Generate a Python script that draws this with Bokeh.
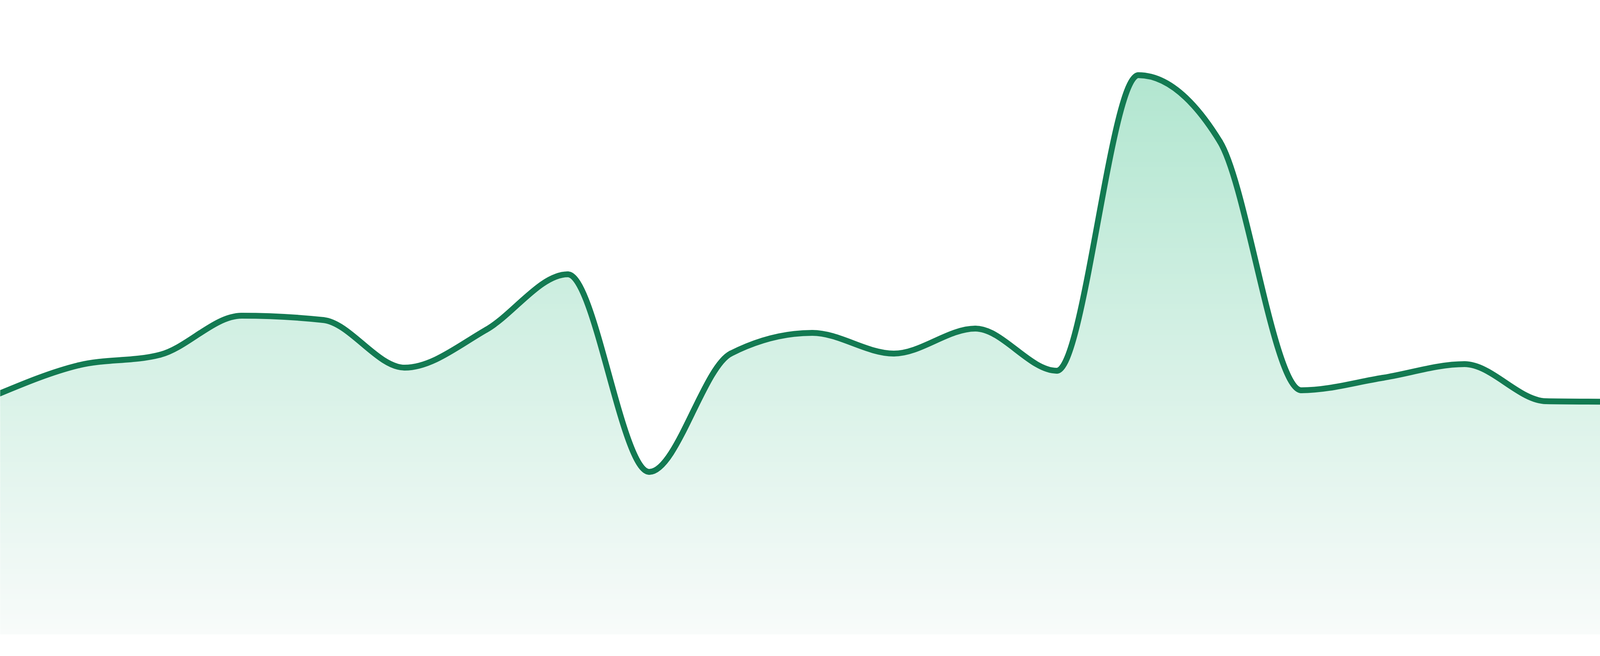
import numpy as np
from bokeh.plotting import figure
from bokeh.models import Range1d
from bokeh.embed import file_html
from bokeh.resources import INLINE

# values, one per evenly spaced step
steps = list(range(24))
values = [61.4, 68.9, 71.6, 81.6, 80.5, 68.3, 78.0, 92.2, 41.6, 71.9, 77.2, 71.9,
          78.3, 67.5, 143.2, 126.2, 62.5, 65.7, 69.2, 59.7, 59.5, 49.4, 53.1, 56.1]

line_color = "#137a52"
fill_top = (178, 230, 208)
fill_bottom = (248, 251, 250)


def monotone_tangents(x, y):
    # same rule as d3.curveMonotoneX
    h = np.diff(x)
    s = np.diff(y) / h
    n = len(x)
    t = np.zeros(n)
    for i in range(1, n - 1):
        p = (s[i - 1] * h[i] + s[i] * h[i - 1]) / (h[i - 1] + h[i])
        t[i] = (np.sign(s[i - 1]) + np.sign(s[i])) * min(abs(s[i - 1]), abs(s[i]), 0.5 * abs(p))
    t[0] = (3 * s[0] - t[1]) / 2
    t[-1] = (3 * s[-1] - t[-2]) / 2
    return t


def curve_samples(x, y, t, per_seg=40):
    # points along the same cubic segments the line is drawn with
    xs, ys = [], []
    for i in range(len(x) - 1):
        dx = x[i + 1] - x[i]
        u = np.linspace(0, 1, per_seg, endpoint=(i == len(x) - 2))
        h00 = 2 * u**3 - 3 * u**2 + 1
        h10 = u**3 - 2 * u**2 + u
        h01 = -2 * u**3 + 3 * u**2
        h11 = u**3 - u**2
        xs.extend(x[i] + u * dx)
        ys.extend(h00 * y[i] + h10 * dx * t[i] + h01 * y[i + 1] + h11 * dx * t[i + 1])
    return np.array(xs), np.array(ys)


x = np.array(steps, float)
y = np.array(values, float)
t = monotone_tangents(x, y)

x_start, x_end = 8 * 23 / 4800, 4792 * 23 / 4800
y_start, y_end = -4.0, 162.4

p = figure(width=4784, height=1664, output_backend="svg", toolbar_location=None,
           x_axis_type=None, y_axis_type=None,
           x_range=Range1d(x_start, x_end), y_range=Range1d(y_start, y_end),
           min_border=0, outline_line_color=None)
p.grid.visible = False
p.background_fill_color = "white"
p.border_fill_color = "white"

# vertical gradient under the curve, as thin bands cut off at the curve
cx, cy = curve_samples(x, y, t)
top = max(values)
n_bands = 110
edges = np.linspace(0, top, n_bands + 1)
for k in range(n_bands):
    f = (k + 0.5) / n_bands
    c = tuple(int(round(fill_bottom[j] + (fill_top[j] - fill_bottom[j]) * f)) for j in range(3))
    lo, hi = edges[k], edges[k + 1]
    y1 = lo - 0.08 if k > 0 else lo
    y2 = np.clip(cy, y1, hi)
    p.varea(x=cx, y1=y1, y2=y2, fill_color="#%02x%02x%02x" % c)

# the line itself as cubic bezier segments
dx = np.diff(x)
p.bezier(x0=x[:-1], y0=y[:-1], x1=x[1:], y1=y[1:],
         cx0=x[:-1] + dx / 3, cy0=y[:-1] + dx * t[:-1] / 3,
         cx1=x[1:] - dx / 3, cy1=y[1:] - dx * t[1:] / 3,
         line_color=line_color, line_width=15, line_cap="round")

open("out.html", "w").write(file_html(p, INLINE))
